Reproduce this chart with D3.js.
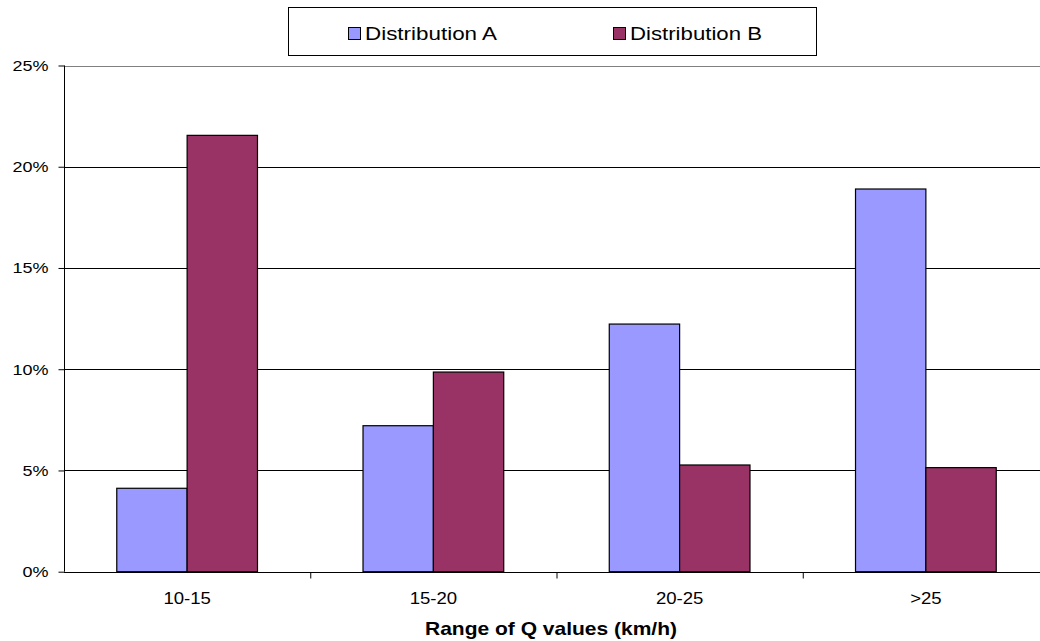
<!DOCTYPE html>
<html>
<head>
<meta charset="utf-8">
<script src="https://cdn.jsdelivr.net/npm/d3@7"></script>
<style>
  html, body { margin: 0; padding: 0; background: #fff; }
  svg { display: block; font-family: "Liberation Sans", Arial, sans-serif; }
</style>
</head>
<body>
<svg id="chart" width="1040" height="641"></svg>
<script>
// Share of observations per range of Q values
const categories = ["10-15", "15-20", "20-25", ">25"];
const seriesNames = ["Distribution A", "Distribution B"];
const distributionA = [0.0412, 0.0721, 0.1223, 0.1890];
const distributionB = [0.2155, 0.0986, 0.0527, 0.0514];
const yTickValues = [0, 0.05, 0.10, 0.15, 0.20, 0.25];
const seriesColors = ["#9999FF", "#993366"];
const axisTitle = "Range of Q values (km/h)";

const svg = d3.select("#chart");
const plot = { left: 64, right: 1049, top: 65.5, bottom: 571.7 };
// glyphs are drawn slightly wide
const stretch = 1.16;

const x = d3.scaleBand().domain(categories).range([plot.left, plot.right]).paddingInner(0).paddingOuter(0);
// two bars per group, 150% gap width
const barW = x.bandwidth() / 3.5;
const y = d3.scaleLinear().domain([0, 0.25]).range([plot.bottom, plot.top]);

function widen(sel) {
  sel.each(function () {
    const n = this;
    const w = n.getComputedTextLength();
    n.setAttribute("textLength", w * stretch);
    n.setAttribute("lengthAdjust", "spacingAndGlyphs");
  });
}

// gridlines
svg.append("g")
  .selectAll("line")
  .data(yTickValues.slice(1))
  .join("line")
  .attr("x1", plot.left).attr("x2", plot.right)
  .attr("y1", d => Math.round(y(d)) + 0.5).attr("y2", d => Math.round(y(d)) + 0.5)
  .attr("stroke", d => d === 0.25 ? "#808080" : "#000")
  .attr("stroke-width", 1);

// bars
const rows = categories.map((c, i) => ({ cat: c, vals: [distributionA[i], distributionB[i]] }));
const groups = svg.append("g").selectAll("g").data(rows).join("g");
groups.selectAll("rect")
  .data(d => d.vals.map((v, s) => ({ cat: d.cat, v, s })))
  .join("rect")
  .attr("x", d => x(d.cat) + x.bandwidth() / 2 - barW + d.s * barW)
  .attr("y", d => y(d.v))
  .attr("width", barW)
  .attr("height", d => plot.bottom - y(d.v))
  .attr("fill", d => seriesColors[d.s])
  .attr("stroke", "#000")
  .attr("stroke-width", 1.2);

// y axis
const yAxis = d3.axisLeft(y).tickValues(yTickValues).tickFormat(d3.format(".0%")).tickSize(6).tickPadding(10);
const gy = svg.append("g").attr("transform", `translate(${plot.left + 0.5},0)`).call(yAxis);
gy.select(".domain").attr("stroke", "#000").attr("d", `M0,${plot.top}V${plot.bottom}`);
gy.selectAll(".tick line").attr("stroke", "#000");
gy.selectAll(".tick text").attr("font-size", 15.5).attr("fill", "#000")
  .attr("font-family", "Liberation Sans, Arial, sans-serif").call(widen);

// x axis
const xAxis = d3.axisBottom(x).tickSize(0).tickPadding(20);
const gx = svg.append("g").attr("transform", `translate(0,${Math.round(plot.bottom) + 0.5})`).call(xAxis);
gx.select(".domain").attr("stroke", "#000").attr("d", `M${plot.left},0H${plot.right}`);
gx.selectAll(".tick text").attr("font-size", 16).attr("fill", "#000")
  .attr("font-family", "Liberation Sans, Arial, sans-serif").call(widen);
// category boundary ticks
gx.append("g").selectAll("line")
  .data(categories.slice(1))
  .join("line")
  .attr("x1", d => x(d) + 0.5).attr("x2", d => x(d) + 0.5)
  .attr("y1", 0).attr("y2", 6)
  .attr("stroke", "#000");

// axis title
svg.append("text")
  .attr("x", 551).attr("y", 635)
  .attr("text-anchor", "middle")
  .attr("font-size", 19).attr("font-weight", "bold")
  .text(axisTitle)
  .each(function () {
    this.setAttribute("textLength", 252);
    this.setAttribute("lengthAdjust", "spacingAndGlyphs");
  });

// legend
const legend = svg.append("g");
legend.append("rect")
  .attr("x", 288.5).attr("y", 7.5).attr("width", 528).attr("height", 48)
  .attr("fill", "#fff").attr("stroke", "#000").attr("stroke-width", 1);
const legendX = [348, 613];
const items = legend.selectAll("g.item").data(seriesNames).join("g").attr("class", "item")
  .attr("transform", (d, i) => `translate(${legendX[i]},0)`);
items.append("rect")
  .attr("x", 0.5).attr("y", 27.5).attr("width", 12).attr("height", 12)
  .attr("fill", (d, i) => seriesColors[i]).attr("stroke", "#000").attr("stroke-width", 1);
items.append("text")
  .attr("x", 17).attr("y", 40)
  .attr("font-size", 19)
  .text(d => d)
  .each(function () {
    this.setAttribute("textLength", 132);
    this.setAttribute("lengthAdjust", "spacingAndGlyphs");
  });
</script>
</body>
</html>
